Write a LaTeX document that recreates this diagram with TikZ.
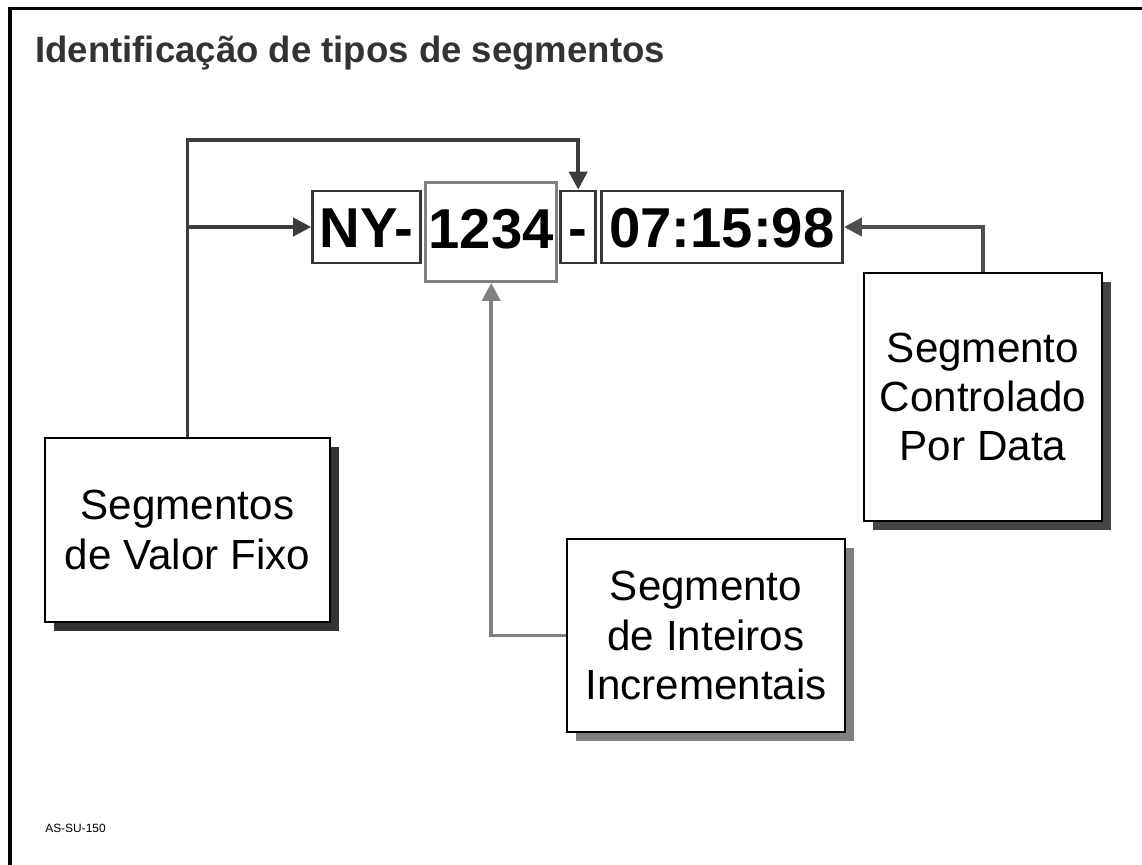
\documentclass[tikz,border=0pt]{standalone}
\usepackage{fontspec}
\setmainfont{Liberation Sans}
\usepackage{tikz}
\usetikzlibrary{arrows.meta,shadows}
\usepackage{xcolor}
\definecolor{FrameBlack}{HTML}{000000}
\definecolor{TitleGray}{HTML}{333333}
\definecolor{EdgeDark}{HTML}{363636}
\definecolor{EdgeGray}{HTML}{808080}
\definecolor{ArrowDark}{HTML}{3C3C3C}
\definecolor{ArrowMid}{HTML}{4E4E4E}
\definecolor{ShadowDark}{HTML}{333333}
\definecolor{ShadowMid}{HTML}{444444}
\definecolor{ShadowGray}{HTML}{808080}

\begin{document}
\begin{tikzpicture}[
    seg/.style={draw=EdgeDark, line width=2pt, fill=white, inner sep=2pt, minimum height=1.8cm, text height=1.0cm, text depth=0cm, font=\fontsize{40}{44}\selectfont\bfseries},
    note/.style={draw=black, line width=0.8pt, fill=white, align=center, font=\fontsize{30}{35}\selectfont},
    arr/.style={-{Triangle[length=0.45cm, width=0.45cm]}, line width=2.8pt, draw=ArrowDark},
    frame/.style={draw=FrameBlack, line width=2.4pt}
  ]
    \useasboundingbox (0, 0) rectangle (28.55, -21.625);
    \draw[frame] (0.25, -21.625) -- (0.25, -0.2125) -- (28.55, -0.2125);

    \node[anchor=base west, inner sep=0, text=TitleGray, font=\fontsize{26}{30}\selectfont\bfseries] (title) at (0.875, -1.575) {Identificação de tipos de segmentos};
    \node[anchor=base west, inner sep=0, font=\fontsize{8.5}{10}\selectfont] (code) at (1.125, -20.8) {AS-SU-150};

    \node[seg, minimum width=2.7cm] (ny) at (9.165, -5.675) {NY-};
    \node[seg, draw=EdgeGray, minimum width=3.25cm, minimum height=2.475cm, text depth=0.2cm] (num) at (12.28, -5.8) {1234};
    \node[seg, minimum width=0.875cm] (dash) at (14.455, -5.675) {-};
    \node[seg, minimum width=6.025cm] (clock) at (18.05, -5.675) {07:15:98};

    \node[note, minimum width=7.125cm, minimum height=4.6cm, drop shadow={shadow xshift=0.225cm, shadow yshift=-0.225cm, opacity=1, fill=ShadowDark}] (fixo) at (4.6875, -13.25) {Segmentos\\de Valor Fixo};
    \node[note, minimum width=6.95cm, minimum height=4.825cm, drop shadow={shadow xshift=0.225cm, shadow yshift=-0.225cm, opacity=1, fill=ShadowGray}] (inc) at (17.65, -15.8875) {Segmento\\de Inteiros\\Incrementais};
    \node[note, minimum width=5.95cm, minimum height=6.2cm, drop shadow={shadow xshift=0.225cm, shadow yshift=-0.225cm, opacity=1, fill=ShadowMid}] (data) at (24.575, -9.925) {Segmento\\Controlado\\Por Data};

    \coordinate (bend) at (14.455, -3.5);

    \draw[arr] (fixo.north) |- (bend) -- (dash.north);
    \draw[arr] (fixo.north |- ny.west) -- (ny.west);
    \draw[arr, draw=ArrowMid] (data.north) |- (clock.east);
    \draw[arr, draw=EdgeGray] (inc.west) -| (num.south);
  \end{tikzpicture}
\end{document}
